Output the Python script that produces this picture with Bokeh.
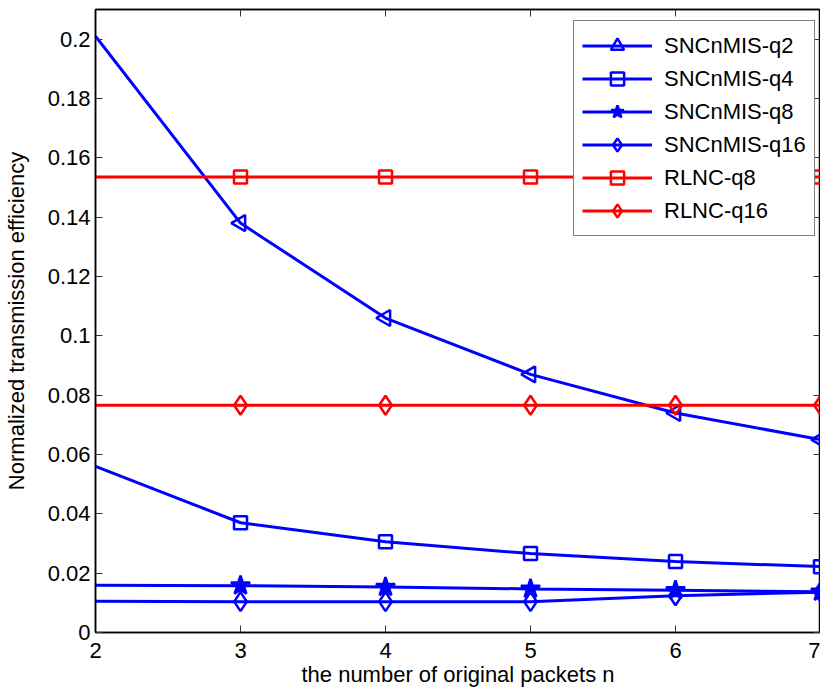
import math
from bokeh.plotting import figure
from bokeh.models import (FixedTicker, LinearAxis, Range1d, Legend, LegendItem,
                          CustomJSTickFormatter)
from bokeh.embed import file_html
from bokeh.resources import INLINE

# ---- data ----
n_packets = [2, 3, 4, 5, 6, 7]
sncnmis_q2 = [0.201, 0.138, 0.106, 0.087, 0.074, 0.065]
sncnmis_q4 = [0.056, 0.037, 0.0306, 0.0266, 0.0239, 0.0222]
sncnmis_q8 = [0.0159, 0.0158, 0.0153, 0.0147, 0.0142, 0.0137]
sncnmis_q16 = [0.0105, 0.0104, 0.0104, 0.0104, 0.0124, 0.0136]
rlnc_q8 = [0.1535, 0.1535, 0.1535, 0.1535, 0.1535, 0.1535]
rlnc_q16 = [0.0766, 0.0766, 0.0766, 0.0766, 0.0766, 0.0766]

x_ticks = [2, 3, 4, 5, 6, 7]
y_ticks = [0, 0.02, 0.04, 0.06, 0.08, 0.1, 0.12, 0.14, 0.16, 0.18, 0.2]
y_tick_labels = ["0", "0.02", "0.04", "0.06", "0.08", "0.1", "0.12", "0.14", "0.16", "0.18", "0.2"]

FONT = "Liberation Sans"
BLUE = "#0000FF"
RED = "#FF0000"

p = figure(width=820, height=689, output_backend="svg", toolbar_location=None,
           x_range=Range1d(2, 7), y_range=Range1d(0, 0.21),
           min_border_left=0, min_border_right=0, min_border_top=9, min_border_bottom=0)
p.xgrid.visible = False
p.ygrid.visible = False
p.outline_line_color = "black"
p.outline_line_width = 1.5

def style_axis(ax, labels=True):
    ax.axis_line_color = "black"
    ax.axis_line_width = 1.5
    ax.major_tick_in = 7
    ax.major_tick_out = 0
    ax.minor_tick_in = 0
    ax.minor_tick_out = 0
    ax.major_tick_line_color = "#333333"
    ax.major_label_text_font = FONT
    ax.major_label_text_color = "black"
    ax.axis_label_text_font = FONT
    ax.axis_label_text_font_style = "normal"
    ax.axis_label_text_color = "black"
    if labels:
        ax.major_label_text_font_size = "22px"
        ax.axis_label_text_font_size = "22px"
    else:
        ax.formatter = CustomJSTickFormatter(code="return ''")
        ax.major_label_text_font_size = "1px"
        ax.major_label_standoff = 0

xa = p.xaxis[0]
ya = p.yaxis[0]
style_axis(xa)
style_axis(ya)
xa.ticker = FixedTicker(ticks=x_ticks)
ya.ticker = FixedTicker(ticks=y_ticks)
ya.major_label_overrides = {t: l for t, l in zip(y_ticks, y_tick_labels)}
xa.axis_label = "the number of original packets n"
ya.axis_label = "Normalized transmission efficiency"
xa.major_label_standoff = 10
ya.major_label_standoff = 5
ya.axis_label_standoff = 16
xa.axis_label_standoff = 1

top = LinearAxis(ticker=FixedTicker(ticks=x_ticks))
right = LinearAxis(ticker=FixedTicker(ticks=y_ticks))
style_axis(top, labels=False)
style_axis(right, labels=False)
p.add_layout(top, "above")
p.add_layout(right, "right")

series = [
    ("SNCnMIS-q2", sncnmis_q2, BLUE, "triangle", 16, math.pi / 2, False),
    ("SNCnMIS-q4", sncnmis_q4, BLUE, "square", 13, 0, False),
    ("SNCnMIS-q8", sncnmis_q8, BLUE, "star", 20, 0, True),
    ("SNCnMIS-q16", sncnmis_q16, BLUE, "diamond", 19, 0, False),
    ("RLNC-q8", rlnc_q8, RED, "square", 13, 0, False),
    ("RLNC-q16", rlnc_q16, RED, "diamond", 19, 0, False),
]

items = []
for name, ys, col, mk, sz, ang, filled in series:
    r1 = p.line(n_packets, ys, line_color=col, line_width=3)
    r2 = p.scatter(n_packets[1:], ys[1:], marker=mk, size=sz, angle=ang,
                   line_color=col, line_width=2.5,
                   fill_color=col if filled else None)
    items.append(LegendItem(label=name, renderers=[r1, r2]))

legend = Legend(items=items, location=(478, 396),
                label_text_font=FONT, label_text_font_size="22px",
                label_text_color="black",
                glyph_width=70, glyph_height=33, label_height=25,
                label_standoff=12, spacing=0, padding=8,
                border_line_color="black", border_line_width=1.2,
                background_fill_color="white", background_fill_alpha=1.0)
p.add_layout(legend, "center")

open("out.html", "w").write(file_html(p, INLINE))
